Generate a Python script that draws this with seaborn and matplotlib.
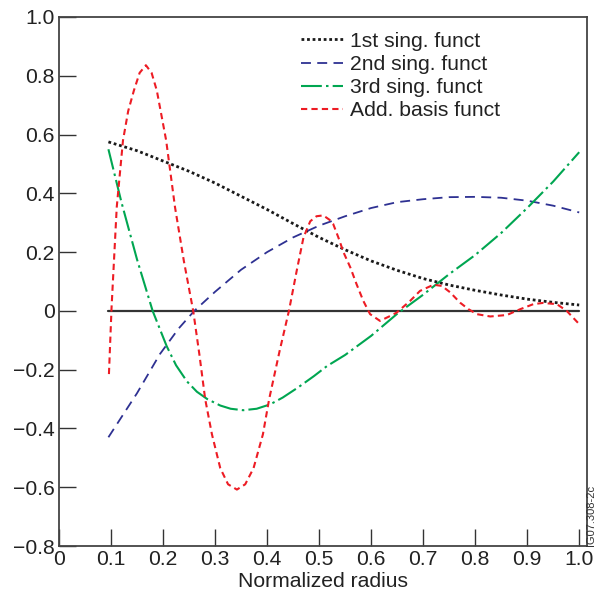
import matplotlib
matplotlib.use("Agg")
import matplotlib.pyplot as plt
import seaborn as sns

sns.set_style("white")
plt.rcParams['font.family'] = ['Liberation Sans', 'DejaVu Sans']

# ---- data ----
x1 = [0.095, 0.15, 0.2, 0.25, 0.3, 0.35, 0.4, 0.45, 0.5, 0.55, 0.6, 0.65, 0.7,
      0.75, 0.8, 0.85, 0.9, 0.95, 1.0]
y1 = [0.575, 0.545, 0.51, 0.475, 0.435, 0.39, 0.345, 0.297, 0.25, 0.208, 0.17,
      0.138, 0.11, 0.088, 0.07, 0.054, 0.04, 0.029, 0.02]

x2 = [0.095, 0.15, 0.194, 0.23, 0.26, 0.3, 0.35, 0.4, 0.45, 0.5, 0.55, 0.6,
      0.65, 0.7, 0.75, 0.8, 0.85, 0.9, 0.95, 1.0]
y2 = [-0.43, -0.28, -0.147, -0.06, 0.0, 0.065, 0.14, 0.2, 0.25, 0.29, 0.322,
      0.35, 0.37, 0.38, 0.387, 0.388, 0.385, 0.375, 0.358, 0.335]

x3 = [0.095, 0.12, 0.15, 0.18, 0.207, 0.225, 0.246, 0.265, 0.285, 0.31, 0.33,
      0.354, 0.38, 0.406, 0.43, 0.46, 0.49, 0.515, 0.55, 0.6, 0.65, 0.7, 0.75,
      0.8, 0.85, 0.9, 0.95, 1.0]
y3 = [0.55, 0.37, 0.175, 0.0, -0.12, -0.185, -0.24, -0.275, -0.30, -0.322,
      -0.333, -0.338, -0.333, -0.318, -0.295, -0.26, -0.222, -0.188, -0.15,
      -0.085, -0.01, 0.055, 0.125, 0.19, 0.265, 0.35, 0.44, 0.54]

x4 = [0.096, 0.101, 0.111, 0.123, 0.133, 0.144, 0.155, 0.167, 0.178, 0.188,
      0.206, 0.223, 0.24, 0.258, 0.27, 0.281, 0.294, 0.31, 0.325, 0.342, 0.358,
      0.374, 0.392, 0.404, 0.424, 0.442, 0.457, 0.47, 0.483, 0.495, 0.508, 0.52,
      0.527, 0.537, 0.547, 0.56, 0.572, 0.585, 0.598, 0.617, 0.637, 0.649, 0.675,
      0.694, 0.72, 0.736, 0.752, 0.771, 0.787, 0.803, 0.829, 0.861, 0.887, 0.912,
      0.93, 0.957, 0.976, 1.0]
y4 = [-0.215, 0.01, 0.353, 0.58, 0.68, 0.75, 0.81, 0.836, 0.81, 0.75, 0.58,
      0.353, 0.17, 0.0, -0.15, -0.30, -0.42, -0.535, -0.59, -0.608, -0.59,
      -0.535, -0.42, -0.30, -0.137, 0.0, 0.137, 0.25, 0.305, 0.322, 0.325, 0.31,
      0.296, 0.25, 0.199, 0.148, 0.091, 0.034, -0.011, -0.034, -0.017, -0.006,
      0.034, 0.068, 0.089, 0.085, 0.063, 0.028, 0.006, -0.011, -0.019, -0.014,
      0.006, 0.023, 0.027, 0.023, 0.0, -0.045]

zero_x = [0.095, 1.0]
zero_y = [0.0, 0.0]

labels = ["1st sing. funct", "2nd sing. funct", "3rd sing. funct", "Add. basis funct"]
colors = ["#1a1a1a", "#2e3192", "#00a651", "#ed1c24"]
xticks = [0, 0.1, 0.2, 0.3, 0.4, 0.5, 0.6, 0.7, 0.8, 0.9, 1.0]
xticklabels = ["0", "0.1", "0.2", "0.3", "0.4", "0.5", "0.6", "0.7", "0.8", "0.9", "1.0"]
yticks = [-0.8, -0.6, -0.4, -0.2, 0, 0.2, 0.4, 0.6, 0.8, 1.0]
yticklabels = ["\u22120.8", "\u22120.6", "\u22120.4", "\u22120.2", "0", "0.2", "0.4", "0.6", "0.8", "1.0"]

FS = 15.2

fig = plt.figure(figsize=(5.97, 5.98), dpi=100)
ax = fig.add_axes([59/597, 1 - 546/598, (587-59)/597, (546-17)/598])

sns.lineplot(x=zero_x, y=zero_y, ax=ax, color="#333333", lw=1.6, sort=False)
dash_styles = [(0, (1, 1)), (0, (5.5, 3.5)), (0, (10, 2, 1.2, 2)), (0, (3, 2))]
widths = [2.0, 1.3, 1.5, 1.5]
series = [(x1, y1), (x2, y2), (x3, y3), (x4, y4)]
for (xs, ys), lab, c, ls, lw in zip(series, labels, colors, dash_styles, widths):
    sns.lineplot(x=xs, y=ys, ax=ax, color=c, lw=lw, linestyle=ls, label=lab,
                 sort=False, estimator=None)

ax.set_xlim(0, 1.015)
ax.set_ylim(-0.8, 1.0)
ax.set_xticks(xticks)
ax.set_xticklabels(xticklabels)
ax.set_yticks(yticks)
ax.set_yticklabels(yticklabels)
ax.tick_params(direction="in", length=12, width=1.0, color="#333333",
               labelsize=FS, labelcolor="#222222", pad=3,
               bottom=True, left=True, top=False, right=False)
for s in ax.spines.values():
    s.set_color("#444444")
    s.set_linewidth(1.3)
ax.set_xlabel("Normalized radius", fontsize=FS, color="#222222", labelpad=2)
ax.set_ylabel("")

leg = ax.legend(loc="upper left", bbox_to_anchor=(0.442, 0.988), frameon=False,
                fontsize=FS, handlelength=2.0, handletextpad=0.35,
                labelspacing=0.2, borderaxespad=0)
for t in leg.get_texts():
    t.set_color("#222222")

fig.text(586/597, 1 - 546/598, "IG07.308-2c", rotation=90, fontsize=8,
         ha="left", va="bottom", color="#333333")

fig.savefig("out.png", dpi=100)
